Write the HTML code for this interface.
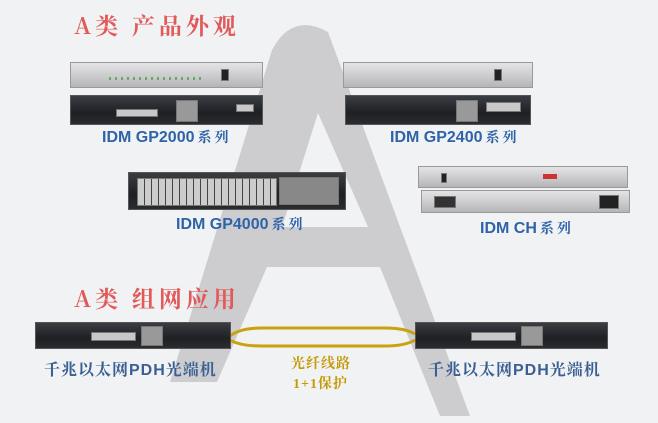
<!DOCTYPE html>
<html><head><meta charset="utf-8"><style>
body{margin:0;width:658px;height:423px;overflow:hidden;background:#f1f2f4;position:relative;font-family:"Liberation Sans","Noto Sans CJK SC",sans-serif}
.a{position:absolute}
.silver{background:linear-gradient(#e4e4e6,#c9c9cc 60%,#b5b5b8);border:1px solid #999;box-sizing:border-box}
.black{background:linear-gradient(#3a3d42,#1e2024 60%,#2a2c30);border:1px solid #555;box-sizing:border-box}
.t{color:#e15a5a;font-weight:bold;font-size:23px;font-family:"Noto Serif CJK SC","Liberation Serif",serif;letter-spacing:4px}
.lb{color:#2f63a8;font-weight:bold;font-size:16px;white-space:nowrap}
.lb span{font-family:"Noto Serif CJK SC",serif;font-size:14px;letter-spacing:3px;margin-left:3px}
.lb2{color:#3a5f92;font-weight:bold;font-size:16px;letter-spacing:1px;white-space:nowrap;font-family:"Liberation Sans","Noto Serif CJK SC",serif}
.gd{color:#c59a08;font-weight:bold;font-size:14px;letter-spacing:1px;white-space:nowrap;font-family:"Liberation Serif","Noto Serif CJK SC",serif}
.port{position:absolute;background:#c8c8c8;border:1px solid #777;box-sizing:border-box}
</style></head><body>
<svg class="a" style="left:0;top:0" width="658" height="423">
<path fill-rule="evenodd" d="M170 382 L272 50 Q292 12 328 32 L470 416 L440 416 L380 267 L267 267 L217 382 Z M318 113 L368 227 L282 227 Z" fill="#cdcdcf"/>
<path d="M230 336 Q240 328 262 328 L385 328 Q405 328 415 334" stroke="#c9a20e" stroke-width="3" fill="none"/>
<path d="M230 340 Q240 346 262 346 L385 346 Q405 346 415 340" stroke="#c9a20e" stroke-width="3" fill="none"/>
</svg>
<div class="a t" style="left:74px;top:8px">A类 产品外观</div>
<div class="a t" style="left:74px;top:281px">A类 组网应用</div>

<div class="a silver" style="left:70px;top:62px;width:193px;height:26px"><div class="port" style="left:150px;top:6px;width:8px;height:12px;background:#222"></div><div style="position:absolute;left:38px;top:14px;width:95px;height:3px;background:repeating-linear-gradient(90deg,#6a6 0 2px,transparent 2px 6px)"></div></div>
<div class="a black" style="left:70px;top:95px;width:193px;height:30px"><div class="port" style="left:45px;top:13px;width:42px;height:8px"></div><div class="port" style="left:105px;top:4px;width:22px;height:22px;background:#999"></div><div class="port" style="left:165px;top:8px;width:18px;height:8px"></div></div>
<div class="a lb" style="left:102px;top:127px">IDM GP2000<span>系列</span></div>

<div class="a silver" style="left:343px;top:62px;width:190px;height:26px"><div class="port" style="left:150px;top:6px;width:8px;height:12px;background:#222"></div></div>
<div class="a black" style="left:345px;top:95px;width:186px;height:30px"><div class="port" style="left:110px;top:4px;width:22px;height:22px;background:#999"></div><div class="port" style="left:140px;top:6px;width:35px;height:10px"></div></div>
<div class="a lb" style="left:390px;top:127px">IDM GP2400<span>系列</span></div>

<div class="a black" style="left:128px;top:172px;width:218px;height:38px"><div class="port" style="left:8px;top:5px;width:140px;height:28px;background:repeating-linear-gradient(90deg,#ccc 0 6px,#444 6px 7px)"></div><div class="port" style="left:150px;top:4px;width:60px;height:28px;background:#888"></div></div>
<div class="a lb" style="left:176px;top:214px">IDM GP4000<span>系列</span></div>

<div class="a silver" style="left:418px;top:166px;width:210px;height:22px"><div class="port" style="left:22px;top:6px;width:6px;height:10px;background:#222"></div><div style="position:absolute;left:124px;top:7px;width:14px;height:5px;background:#c33"></div></div>
<div class="a silver" style="left:421px;top:190px;width:209px;height:23px"><div class="port" style="left:12px;top:5px;width:22px;height:12px;background:#333"></div><div class="port" style="left:177px;top:4px;width:20px;height:14px;background:#222"></div></div>
<div class="a lb" style="left:480px;top:218px">IDM CH<span>系列</span></div>

<div class="a black" style="left:35px;top:322px;width:196px;height:27px"><div class="port" style="left:55px;top:9px;width:45px;height:9px"></div><div class="port" style="left:105px;top:3px;width:22px;height:20px;background:#999"></div></div>
<div class="a black" style="left:415px;top:322px;width:193px;height:27px"><div class="port" style="left:55px;top:9px;width:45px;height:9px"></div><div class="port" style="left:105px;top:3px;width:22px;height:20px;background:#999"></div></div>
<div class="a lb2" style="left:44px;top:357px">千兆以太网PDH光端机</div>
<div class="a lb2" style="left:428px;top:357px">千兆以太网PDH光端机</div>
<div class="a gd" style="left:291px;top:353px">光纤线路</div>
<div class="a gd" style="left:293px;top:373px">1+1保护</div>
</body></html>
